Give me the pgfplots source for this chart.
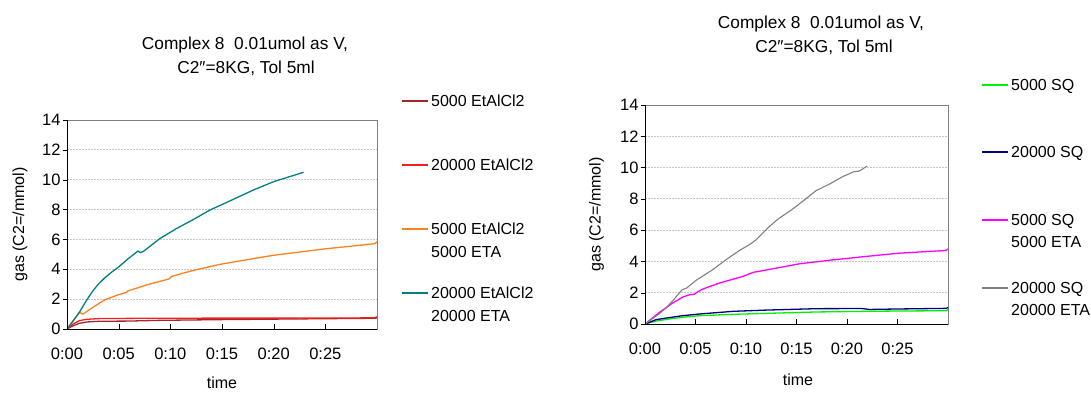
\documentclass[border=0pt]{standalone}
\usepackage{fontspec}
\setmainfont{Liberation Sans}
\usepackage{pgfplots}
\pgfplotsset{compat=1.18}
\definecolor{cdred}{RGB}{160,40,45}
\definecolor{cred}{RGB}{245,30,30}
\definecolor{corange}{RGB}{255,128,30}
\definecolor{cteal}{RGB}{0,128,128}
\definecolor{cgreen}{RGB}{0,240,0}
\definecolor{cnavy}{RGB}{0,0,128}
\definecolor{cmag}{RGB}{255,0,255}
\definecolor{cgray}{RGB}{128,128,128}
\pgfplotsset{
  exc/.style={
    scale only axis, anchor=south west,
    xmin=0, xmax=30, ymin=0, ymax=14,
    xtick={0,5,10,15,20,25},
    xticklabels={0:00,0:05,0:10,0:15,0:20,0:25},
    ytick={0,2,...,14},
    xtick pos=bottom, ytick pos=left,
    tick align=inside,
    major tick length=5pt,
    ytick style={xshift=-4pt, black},
    xtick style={black},
    ymajorgrids,
    grid style={gray!45, line width=0.9pt, dash pattern=on 2pt off 1pt},
    axis line style={gray, line width=0.9pt},
    /pgf/number format/assume math mode=true,
    yticklabel style={xshift=-3pt, font=\fontsize{16.5}{19}\selectfont},
    xticklabel style={yshift=-15pt, font=\fontsize{16.5}{19}\selectfont},
    xlabel={time},
    ylabel={gas (C2=/mmol)},
    every axis plot/.append style={line width=1.3pt, no markers},
  }
}
\begin{document}
\begin{tikzpicture}[font=\fontsize{16}{19.2}\selectfont]
\useasboundingbox (0,0) rectangle (1091pt,392pt);
% ---------- left chart ----------
\begin{axis}[exc, at={(67pt,63pt)}, width=310pt, height=209pt,
  xlabel style={at={(axis description cs:0.5,-0.258)}, anchor=center},
  ylabel style={at={(axis description cs:-0.152,0.5)}, anchor=center, rotate=0}]
\addplot[cdred] coordinates {(0,0) (0.6,0.22) (1.2,0.38) (1.9,0.47) (3.2,0.52) (5.8,0.53) (9,0.58) (15,0.63) (21.5,0.67) (25,0.69) (29.8,0.72) (30,0.74)};
\addplot[cred] coordinates {(0,0) (0.6,0.34) (1.2,0.56) (1.9,0.65) (3.2,0.70) (8,0.72) (15,0.73) (22,0.73) (28,0.74) (29.8,0.76) (30,0.82)};
\addplot[corange] coordinates {(0,0) (0.6,0.55) (1.2,1.12) (1.55,1.0) (2.5,1.45) (3.65,1.95) (4.94,2.29) (5.74,2.45) (5.9,2.55) (7.7,2.95) (9.9,3.36) (10.1,3.52) (12.2,3.92) (14.8,4.33) (17.4,4.64) (19.9,4.93) (22.8,5.18) (25.1,5.38) (27.4,5.54) (29.8,5.72) (30,5.85)};
\addplot[cteal] coordinates {(0,0) (0.6,0.55) (1.2,1.12) (1.87,1.9) (2.5,2.55) (3.0,2.98) (3.65,3.42) (4.3,3.8) (4.94,4.12) (5.9,4.7) (6.87,5.22) (7.1,5.12) (7.4,5.2) (8.97,6.05) (10.6,6.73) (12.4,7.4) (13.8,7.96) (15.8,8.59) (18,9.3) (20,9.87) (22.9,10.5)};
\draw[black, line width=0.9pt] (rel axis cs:0,1) -- (rel axis cs:0,0) -- (rel axis cs:1,0);
\end{axis}
% ---------- right chart ----------
\begin{axis}[exc, at={(645pt,68pt)}, width=303pt, height=219pt,
  xlabel style={at={(axis description cs:0.505,-0.256)}, anchor=center},
  ylabel style={at={(axis description cs:-0.16,0.5)}, anchor=center, rotate=0}]
\addplot[cgreen] coordinates {(0,0) (1.1,0.19) (2.5,0.33) (3.7,0.43) (5.4,0.53) (8.7,0.62) (12,0.68) (17,0.77) (21.9,0.81) (25,0.83) (29.8,0.85) (30,0.93)};
\addplot[cnavy] coordinates {(0,0) (1.1,0.28) (2.1,0.38) (3.7,0.53) (5.4,0.64) (8.7,0.81) (12,0.89) (17,0.98) (21.5,0.99) (22.2,0.93) (25,0.96) (29.8,1.0) (30,1.05)};
\addplot[cmag] coordinates {(0,0) (1.42,0.74) (2.74,1.34) (3.73,1.72) (4.4,1.87) (4.9,1.91) (5.2,2.05) (5.7,2.23) (7.37,2.62) (9.68,3.04) (10.7,3.3) (12.65,3.53) (15.3,3.85) (18.6,4.1) (21.9,4.32) (25.2,4.53) (29.8,4.7) (30,4.8)};
\addplot[cgray, line width=1.1pt] coordinates {(0,0) (1.42,0.66) (2.08,1.02) (2.9,1.6) (3.67,2.19) (4.13,2.3) (5.05,2.79) (6.7,3.47) (8.0,4.1) (9.35,4.7) (10.3,5.06) (11.0,5.38) (12.3,6.23) (13.3,6.77) (14.6,7.34) (16.0,8.04) (16.9,8.51) (18.3,8.96) (19.6,9.43) (20.7,9.74) (21.2,9.77) (22.0,10.1)};
\draw[black, line width=0.9pt] (rel axis cs:0,1) -- (rel axis cs:0,0) -- (rel axis cs:1,0);
\end{axis}
% ---------- titles ----------
\begin{scope}[every node/.style={font=\fontsize{17.3}{20}\selectfont}]
\node[anchor=base] at (245pt,343pt) {Complex 8\ \ 0.01umol as V,};
\node[anchor=base] at (246pt,319pt) {C2″=8KG, Tol 5ml};
\node[anchor=base] at (821pt,363pt) {Complex 8\ \ 0.01umol as V,};
\node[anchor=base] at (824pt,340pt) {C2″=8KG, Tol 5ml};
\end{scope}
% ---------- legends ----------
\begin{scope}[every node/.style={anchor=base west, inner sep=0pt}]
\draw[cdred, line width=1.3pt] (402pt,291pt) -- (428pt,291pt);
\node at (431pt,285.3pt) {5000 EtAlCl2};
\draw[cred, line width=1.3pt] (402pt,227pt) -- (428pt,227pt);
\node at (431pt,221.3pt) {20000 EtAlCl2};
\draw[corange, line width=1.3pt] (402pt,163pt) -- (428pt,163pt);
\node at (431pt,157.3pt) {5000 EtAlCl2};
\node at (431pt,134.3pt) {5000 ETA};
\draw[cteal, line width=1.3pt] (402pt,99pt) -- (428pt,99pt);
\node at (431pt,93.3pt) {20000 EtAlCl2};
\node at (431pt,70.3pt) {20000 ETA};
%
\draw[cgreen, line width=1.3pt] (982pt,307pt) -- (1008pt,307pt);
\node at (1011pt,301.3pt) {5000 SQ};
\draw[cnavy, line width=1.3pt] (982pt,240pt) -- (1008pt,240pt);
\node at (1011pt,234.3pt) {20000 SQ};
\draw[cmag, line width=1.3pt] (982pt,172pt) -- (1008pt,172pt);
\node at (1011pt,166.3pt) {5000 SQ};
\node at (1011pt,144.3pt) {5000 ETA};
\draw[cgray, line width=1.1pt] (982pt,104pt) -- (1008pt,104pt);
\node at (1011pt,98.3pt) {20000 SQ};
\node at (1011pt,76.3pt) {20000 ETA};
\end{scope}
\end{tikzpicture}
\end{document}
